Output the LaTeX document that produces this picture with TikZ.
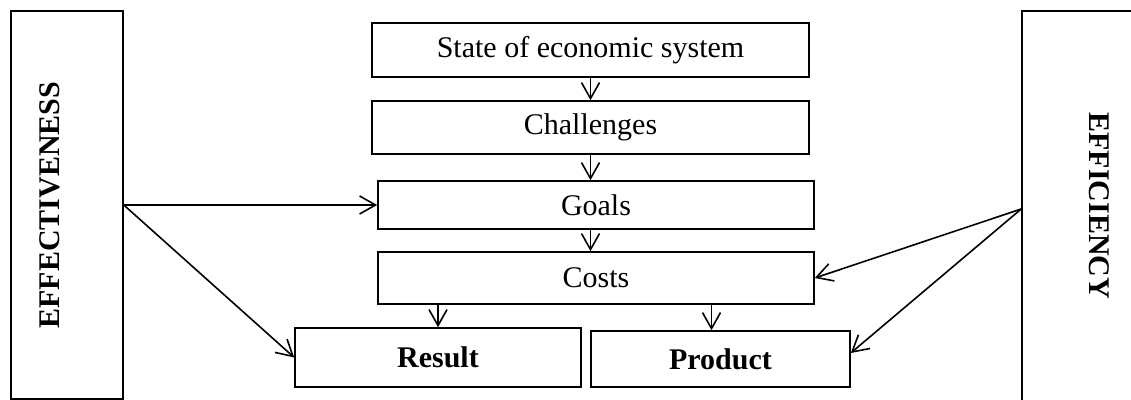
\documentclass[tikz,border=0pt]{standalone}
\usepackage{fontspec}
\setmainfont{Liberation Serif}
\usetikzlibrary{arrows.meta}

\begin{document}
\begin{tikzpicture}[x=0.5pt,y=-0.5pt,line width=0.8pt,
    font=\fontsize{15}{18}\selectfont,
    box/.style={draw,inner sep=0pt},
    sidetext/.style={font=\fontsize{15}{18}\selectfont\bfseries},
    arr/.style={-{Straight Barb[length=8pt,width=9pt]}}]
    \useasboundingbox (0,0) rectangle (1131,400);
    \clip (0,0) rectangle (1131,400);
    \node[box,minimum width=56pt,minimum height=194pt] (effv) at (67,205) {};
    \node[sidetext,rotate=90] at (50,205) {EFFECTIVENESS};
    \node[box,minimum width=77pt,minimum height=195pt] (effc) at (1099,206) {};
    \node[sidetext,rotate=-90] at (1099,206) {EFFICIENCY};
    \node[box,minimum width=218.5pt,minimum height=27pt] (state) at (590.5,50) {State of economic system};
    \node[box,minimum width=218.5pt,minimum height=26.5pt] (chal) at (590.5,127.5) {Challenges};
    \node[box,minimum width=218pt,minimum height=24pt] (goals) at (596,205) {Goals};
    \node[box,minimum width=218pt,minimum height=26pt] (costs) at (596,278) {Costs};
    \node[box,minimum width=143pt,minimum height=29.5pt,font=\fontsize{15}{18}\selectfont\bfseries] (result) at (438,357.5) {Result};
    \node[box,minimum width=129.5pt,minimum height=28pt,font=\fontsize{15}{18}\selectfont\bfseries] (product) at (720.5,359) {Product};
    \draw[arr] (state.south) -- (chal.north);
    \draw[arr] (chal.south) -- (chal.south |- goals.north);
    \draw[arr] (chal.south |- goals.south) -- (chal.south |- costs.north);
    \draw[arr] (result.north |- costs.south) -- (result.north);
    \draw[arr] ([xshift=-4.5pt]costs.south -| product.north) -- ([xshift=-4.5pt]product.north);
    \draw[arr] (effv.east) -- (goals.west);
    \draw[arr] (effv.east) -- (result.west);
    \draw[arr] ([yshift=-1.5pt]effc.west) -- (costs.east);
    \draw[arr] ([yshift=-1.5pt]effc.west) -- ([yshift=3pt]product.east);
\end{tikzpicture}
\end{document}
